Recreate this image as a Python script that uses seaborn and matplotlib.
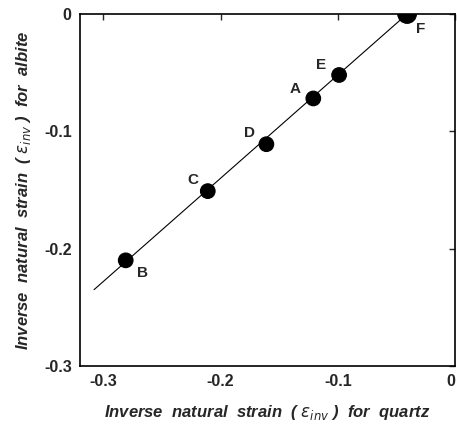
import matplotlib
matplotlib.use("Agg")
import matplotlib.pyplot as plt
import seaborn as sns
import pandas as pd

labels = ["A", "B", "C", "D", "E", "F"]
quartz = [-0.121, -0.281, -0.211, -0.161, -0.099, -0.041]
albite = [-0.072, -0.210, -0.151, -0.111, -0.052, 0.0]
fit_x = [-0.308, -0.041]
fit_y = [-0.235, 0.0]
ticks = [-0.3, -0.2, -0.1, 0.0]
tick_labels = ["-0.3", "-0.2", "-0.1", "0"]

df = pd.DataFrame({"quartz": quartz, "albite": albite, "label": labels})
df["size"] = [1 if l != "F" else 2 for l in labels]

sns.set_theme(style="white")
plt.rcParams['font.family'] = ['Liberation Sans', 'DejaVu Sans']

fig = plt.figure(figsize=(4.57, 4.24), dpi=100)
ax = fig.add_axes([0.175, 0.137, 0.821, 0.830])

sns.lineplot(x=fit_x, y=fit_y, ax=ax, color="black", linewidth=0.8)
sns.scatterplot(data=df, x="quartz", y="albite", size="size", sizes={1: 110, 2: 180},
                color="black", edgecolor="black", legend=False, ax=ax, zorder=3)

offsets = {"A": (-13, 7), "B": (12, -9), "C": (-11, 8), "D": (-12, 8),
           "E": (-13, 7), "F": (10, -11)}
for l, x, y in zip(labels, quartz, albite):
    ax.annotate(l, (x, y), xytext=offsets[l], textcoords="offset points",
                ha="center", va="center", fontsize=11, fontweight="bold")

ax.set_xlim(-0.32, 0.0)
ax.set_ylim(-0.3, 0.0)
ax.set_xticks(ticks)
ax.set_xticklabels(tick_labels)
ax.set_yticks(ticks)
ax.set_yticklabels(tick_labels)
ax.tick_params(direction="in", length=4, width=1, top=True, right=True,
               labelsize=11.5, pad=6)
for t in ax.get_xticklabels() + ax.get_yticklabels():
    t.set_fontweight("bold")
ax.get_xticklabels()[-1].set_horizontalalignment("right")
for s in ax.spines.values():
    s.set_color("black")
    s.set_linewidth(1.2)

ax.set_xlabel(r"Inverse  natural  strain  ( $\varepsilon_{inv}$ )  for  quartz",
              fontsize=12, fontweight="bold", fontstyle="italic", labelpad=10)
ax.set_ylabel(r"Inverse  natural  strain  ( $\varepsilon_{inv}$ )  for  albite",
              fontsize=12, fontweight="bold", fontstyle="italic", labelpad=8)

fig.savefig("out.png", dpi=100)
